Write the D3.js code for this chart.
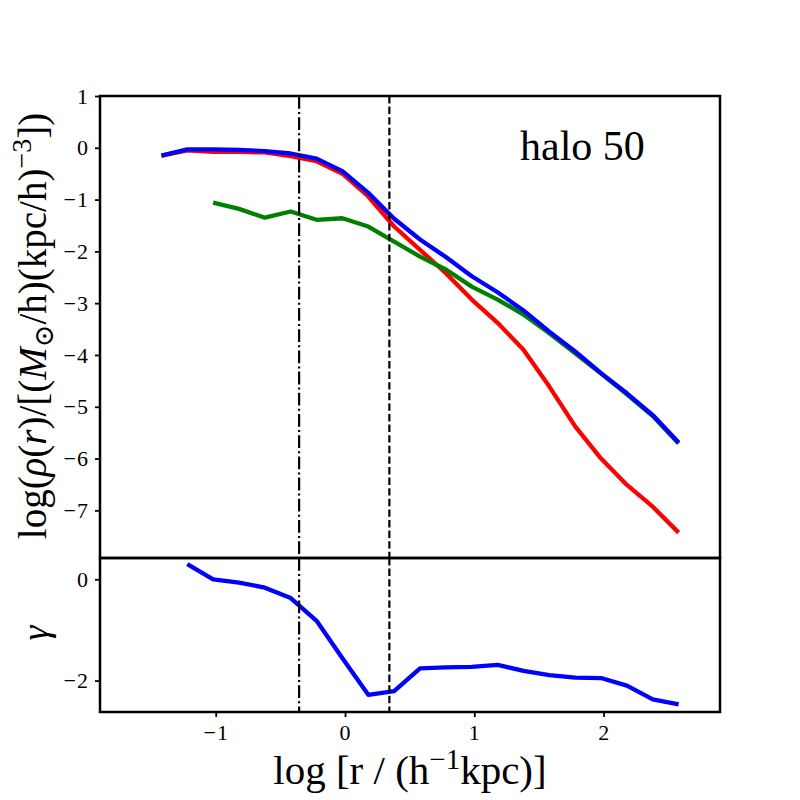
<!DOCTYPE html>
<html>
<head>
<meta charset="utf-8">
<script src="https://cdn.jsdelivr.net/npm/d3@7"></script>
<style>
  html, body { margin: 0; padding: 0; background: #fff; }
  text { font-family: "Liberation Serif", "DejaVu Serif", serif; fill: #000; }
</style>
</head>
<body>
<svg id="chart" width="800" height="800"></svg>
<script>
// ---- data ----
const logR = [-1.42, -1.22, -1.02, -0.82, -0.62, -0.42, -0.22, -0.02, 0.18, 0.38, 0.58,
              0.78, 0.98, 1.18, 1.38, 1.58, 1.78, 1.98, 2.18, 2.38, 2.58];
const rhoTotal = [-0.15, -0.03, -0.03, -0.04, -0.065, -0.11, -0.21, -0.45, -0.87, -1.37, -1.77,
                  -2.11, -2.48, -2.79, -3.14, -3.55, -3.93, -4.35, -4.74, -5.16, -5.69];
const rhoRed = [-0.15, -0.05, -0.08, -0.08, -0.09, -0.16, -0.26, -0.50, -0.94, -1.52, -1.97,
                -2.42, -2.93, -3.38, -3.90, -4.61, -5.38, -6.00, -6.51, -6.93, -7.43];
const logRGreen = [-1.02, -0.82, -0.62, -0.42, -0.22, -0.02, 0.18, 0.38, 0.58,
                   0.78, 0.98, 1.18, 1.38, 1.58, 1.78, 1.98, 2.18, 2.38, 2.58];
const rhoGreen = [-1.06, -1.18, -1.35, -1.23, -1.39, -1.36, -1.52, -1.81, -2.10,
                  -2.35, -2.68, -2.93, -3.22, -3.58, -3.97, -4.36, -4.76, -5.18, -5.71];
const logRGamma = [-1.22, -1.02, -0.82, -0.62, -0.42, -0.22, -0.02, 0.18, 0.38, 0.58,
                   0.78, 0.98, 1.18, 1.38, 1.58, 1.78, 1.98, 2.18, 2.38, 2.58];
const gamma = [0.30, 0.00, -0.067, -0.165, -0.37, -0.82, -1.56, -2.28, -2.21, -1.76,
               -1.74, -1.73, -1.69, -1.81, -1.89, -1.94, -1.95, -2.10, -2.37, -2.47];
const vlineDashDot = -0.355;
const vlineDashed = 0.343;
const xTicks = [-1, 0, 1, 2];
const yTicksTop = [1, 0, -1, -2, -3, -4, -5, -6, -7];
const yTicksBottom = [0, -2];
const haloLabel = "halo 50";

// ---- layout ----
const L = 100, R = 720, T1 = 96, B1 = 558, T2 = 558, B2 = 712;
const svg = d3.select("#chart");

const x = d3.scaleLinear().domain([-1.895, 2.90]).range([L, R]);
const yTop = d3.scaleLinear().domain([-7.92, 1.0]).range([B1, T1]);
const yBot = d3.scaleLinear().domain([-2.62, 0.42]).range([B2, T2]);

const fmt = d => d < 0 ? "\u2212" + Math.abs(d) : String(d);
function styleAxis(g) {
  g.select(".domain").remove();
  g.selectAll(".tick line").attr("stroke", "#000").attr("stroke-width", 1.8);
  g.selectAll(".tick text").style("font-size", "22px").style("font-family", '"Liberation Serif", serif')
    .style("letter-spacing", "1px");
}

// clip paths
const defs = svg.append("defs");
defs.append("clipPath").attr("id", "clipTop").append("rect")
  .attr("x", L).attr("y", T1).attr("width", R - L).attr("height", B1 - T1);
defs.append("clipPath").attr("id", "clipBot").append("rect")
  .attr("x", L).attr("y", T2).attr("width", R - L).attr("height", B2 - T2);

// axes
svg.append("g").attr("transform", `translate(${L},0)`)
  .call(d3.axisLeft(yTop).tickValues(yTicksTop).tickFormat(fmt).tickSize(5).tickPadding(6))
  .call(styleAxis);
svg.append("g").attr("transform", `translate(${L},0)`)
  .call(d3.axisLeft(yBot).tickValues(yTicksBottom).tickFormat(fmt).tickSize(5).tickPadding(6))
  .call(styleAxis);
svg.append("g").attr("transform", `translate(0,${B2})`)
  .call(d3.axisBottom(x).tickValues(xTicks).tickFormat(fmt).tickSize(5).tickPadding(7))
  .call(styleAxis);

// data lines top
const lineTop = (xs, ys) => d3.line().x((d, i) => x(xs[i])).y((d, i) => yTop(d))(ys);
const gTop = svg.append("g").attr("clip-path", "url(#clipTop)");
gTop.append("path").attr("d", lineTop(logR, rhoRed))
  .attr("fill", "none").attr("stroke", "#ff0000").attr("stroke-width", 4.3).attr("stroke-linejoin", "round");
gTop.append("path").attr("d", lineTop(logRGreen, rhoGreen))
  .attr("fill", "none").attr("stroke", "#008000").attr("stroke-width", 4.3).attr("stroke-linejoin", "round");
gTop.append("path").attr("d", lineTop(logR, rhoTotal))
  .attr("fill", "none").attr("stroke", "#0000ff").attr("stroke-width", 4.3).attr("stroke-linejoin", "round");

// bottom gamma line
const gBot = svg.append("g").attr("clip-path", "url(#clipBot)");
gBot.append("path")
  .attr("d", d3.line().x((d, i) => x(logRGamma[i])).y(d => yBot(d))(gamma))
  .attr("fill", "none").attr("stroke", "#0000ff").attr("stroke-width", 4.3).attr("stroke-linejoin", "round");

// vertical lines across both panels
[[vlineDashDot, "12.8,3.2,2,3.2"], [vlineDashed, "7.4,3.2"]].forEach(([v, dash]) => {
  [[T1, B1], [T2, B2]].forEach(([t, b]) => {
    svg.append("line").attr("x1", x(v)).attr("x2", x(v)).attr("y1", t).attr("y2", b)
      .attr("stroke", "#000").attr("stroke-width", 2.2).attr("stroke-dasharray", dash);
  });
});

// frames
svg.append("rect").attr("x", L).attr("y", T1).attr("width", R - L).attr("height", B1 - T1)
  .attr("fill", "none").attr("stroke", "#000").attr("stroke-width", 2.5);
svg.append("rect").attr("x", L).attr("y", T2).attr("width", R - L).attr("height", B2 - T2)
  .attr("fill", "none").attr("stroke", "#000").attr("stroke-width", 2.5);

// halo label
svg.append("text").attr("x", 520).attr("y", 160).style("font-size", "42px").text(haloLabel);

// x label
const xl = svg.append("text").attr("x", (L + R) / 2).attr("y", 784)
  .attr("text-anchor", "middle").style("font-size", "41px");
xl.append("tspan").text("log [r / (h");
xl.append("tspan").attr("dy", -15).style("font-size", "29px").text("\u22121");
xl.append("tspan").attr("dy", 15).text("kpc)]");

// y label (top)
const yl = svg.append("text").attr("transform", `translate(46,${(T1 + B1) / 2 - 1}) rotate(-90)`)
  .attr("text-anchor", "middle").style("font-size", "39px");
yl.append("tspan").text("log(");
yl.append("tspan").style("font-style", "italic").text("\u03C1");
yl.append("tspan").text("(");
yl.append("tspan").style("font-style", "italic").text("r");
yl.append("tspan").text(")/[(");
yl.append("tspan").style("font-style", "italic").text("M");
yl.append("tspan").attr("dy", 7).style("font-size", "27px").text("\u2299");
yl.append("tspan").attr("dy", -7).text("/h)(kpc/h)");
yl.append("tspan").attr("dy", -15).style("font-size", "28px").text("\u22123");
yl.append("tspan").attr("dy", 15).text("])");

// gamma label
svg.append("text").attr("transform", `translate(48,${(T2 + B2) / 2 - 2}) rotate(-90)`)
  .attr("text-anchor", "middle").style("font-size", "38px").style("font-style", "italic").text("\u03B3");
</script>
</body>
</html>
